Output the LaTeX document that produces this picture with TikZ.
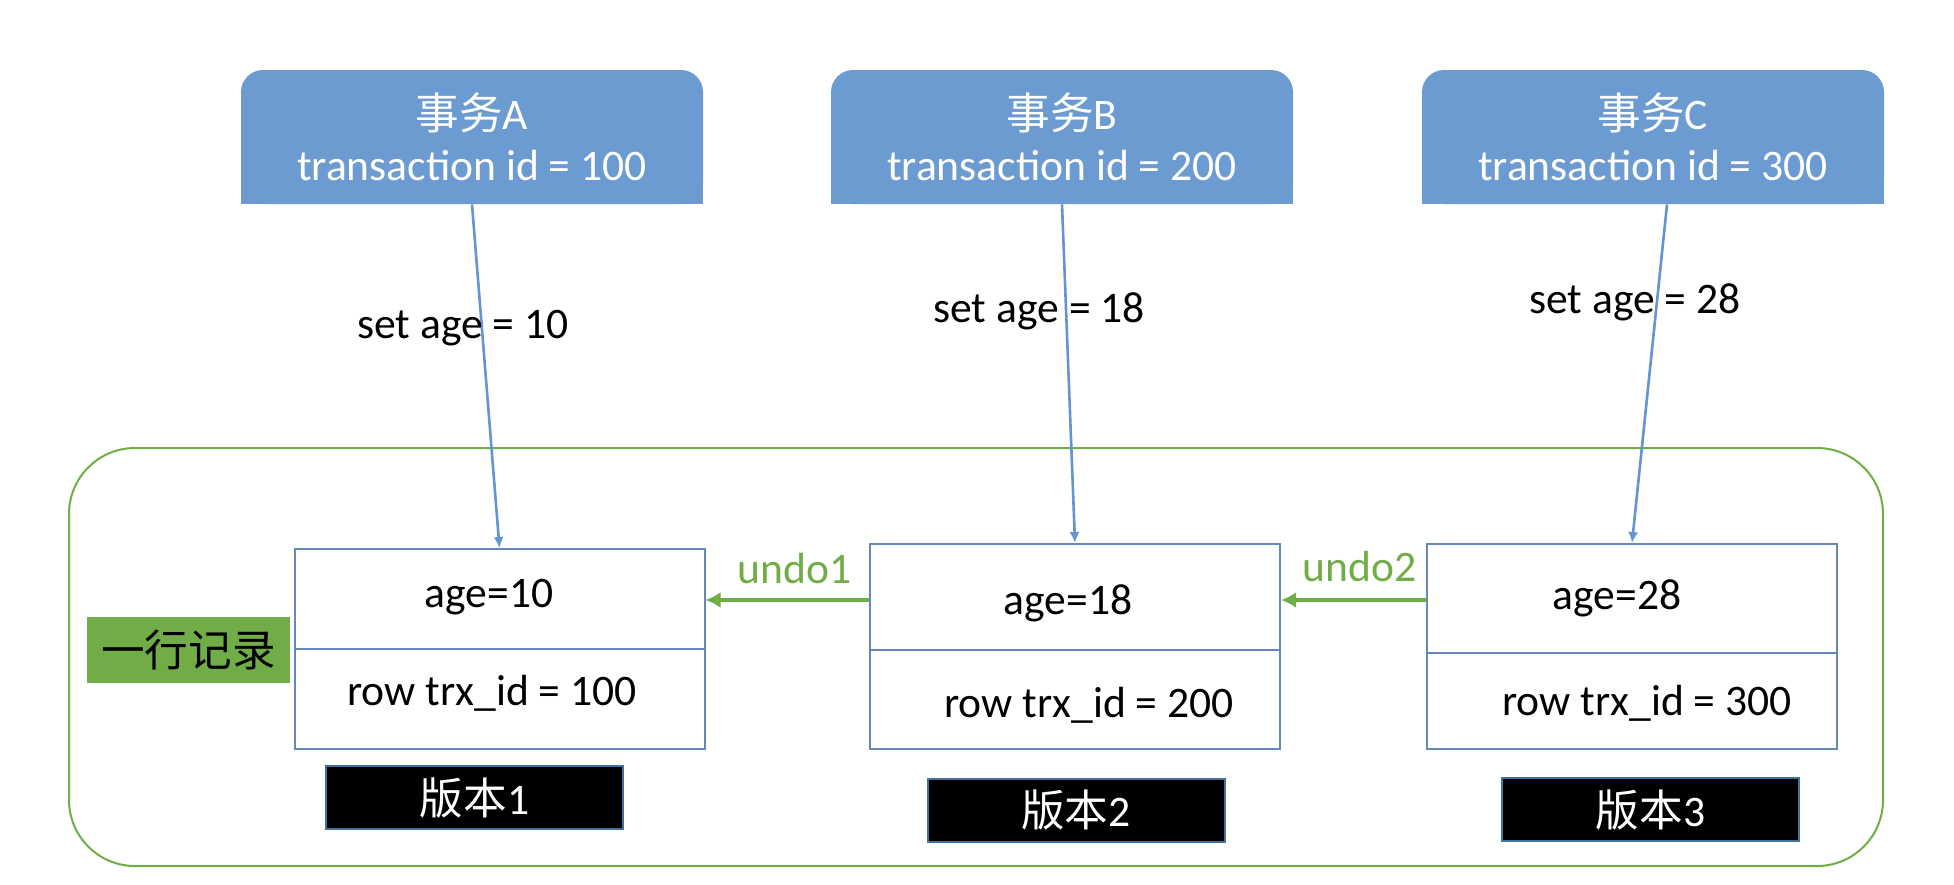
\documentclass[tikz,border=0pt]{standalone}
\usepackage{fontspec}
\setmainfont{Carlito}
\newfontfamily\cjk{Noto Sans CJK SC}
\usetikzlibrary{arrows.meta}
\definecolor{txblue}{RGB}{107,155,209}
\definecolor{lnblue}{RGB}{98,148,214}
\definecolor{bxblue}{RGB}{100,135,190}
\definecolor{rowgreen}{RGB}{112,173,71}
\definecolor{tagedge}{RGB}{65,113,156}
\tikzset{
  txtext/.style={text=white, align=center, minimum width=231pt, minimum height=67pt, inner sep=0pt},
  verbox/.style={draw=bxblue, line width=1pt, minimum width=205pt, inner sep=0pt},
  tagbox/.style={fill=black, draw=tagedge, line width=1pt, text=white, minimum width=148.5pt, minimum height=31.5pt, inner sep=0pt},
  setedge/.style={draw=lnblue, line width=1.3pt, -{Latex[length=5.5pt,width=5pt]}},
  undoedge/.style={draw=rowgreen, line width=2pt, -{Latex[length=7.5pt,width=8pt]}},
}
\begin{document}
\begin{tikzpicture}[x=0.5pt, y=-0.5pt, font=\fontsize{21.8}{25.5}\selectfont]
  \useasboundingbox (0,0) rectangle (1954,884);
  \draw[rowgreen, line width=1pt, rounded corners=33pt] (69,448) rectangle (1883,866);
  \foreach \k/\x/\id in {A/472/100,B/1062/200,C/1653/300}{
    \fill[txblue, rounded corners=11pt] (\x-231,70) rectangle (\x+231,204);
    \fill[txblue] (\x-231,137) rectangle (\x+231,204);
    \node[txtext] (tx\k) at (\x,137) {{\cjk 事务}\k\\transaction id = \id};
  }
  \node[verbox, minimum height=100pt] (v1) at (499.5,649) {};
  \node[verbox, minimum height=102.5pt] (v2) at (1075,646.5) {};
  \node[verbox, minimum height=102.5pt] (v3) at (1632,646.5) {};
  \draw[bxblue, line width=1pt] (v1.west |- 0,649) -- (v1.east |- 0,649);
  \draw[bxblue, line width=1pt] (v2.west |- 0,650) -- (v2.east |- 0,650);
  \draw[bxblue, line width=1pt] (v3.west |- 0,653) -- (v3.east |- 0,653);
  \node (age1) at (489,597) {age=10};
  \node (trx1) at (492,693) {row trx\_id = 100};
  \node (age2) at (1068,603) {age=18};
  \node (trx2) at (1089,705) {row trx\_id = 200};
  \node (age3) at (1617,598) {age=28};
  \node (trx3) at (1647,703) {row trx\_id = 300};
  \node[tagbox] (tag1) at (474.5,797.5) {{\cjk 版本}1};
  \node[tagbox] (tag2) at (1076,810) {{\cjk 版本}2};
  \node[tagbox] (tag3) at (1650.5,809.5) {{\cjk 版本}3};
  \node[fill=rowgreen, minimum width=101.5pt, minimum height=33pt, inner sep=0pt] (row) at (188.5,650) {\cjk 一行记录};
  \draw[setedge] (txA.south) -- (v1.north) node[pos=.36, xshift=-9.5pt] (setA) {set age = 10};
  \draw[setedge] (txB.south) -- (v2.north) node[pos=.315, xshift=-13.5pt] (setB) {set age = 18};
  \draw[setedge] ([xshift=7pt]txC.south) -- (v3.north) node[pos=.29, xshift=-11pt] (setC) {set age = 28};
  \draw[undoedge] ([yshift=23.25pt]v2.west) -- ([yshift=24.5pt]v1.east) node[midway, yshift=15.5pt, xshift=3.5pt, text=rowgreen] (undoA) {undo1};
  \draw[undoedge] ([yshift=23.25pt]v3.west) -- ([yshift=23.25pt]v2.east) node[midway, yshift=16.5pt, xshift=3pt, text=rowgreen] (undoB) {undo2};
\end{tikzpicture}
\end{document}
